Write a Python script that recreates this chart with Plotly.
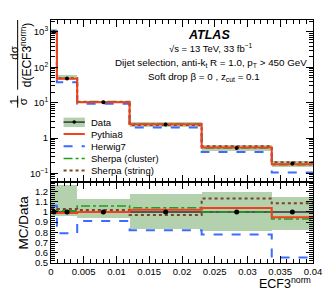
import plotly.graph_objects as go

# ---------------- data ----------------
bin_edges = [0.0, 0.0009, 0.004, 0.012, 0.023, 0.0337, 0.04]
data = [980.0, 48.0, 10.2, 2.4, 0.52, 0.19]
data_unc_up = [0.26, 0.26, 0.12, 0.17, 0.19, 0.14]   # relative
data_unc_dn = [0.04, 0.04, 0.06, 0.17, 0.19, 0.18]   # relative
pythia8 = [970.0, 47.5, 10.2, 2.45, 0.54, 0.180]
herwig7 = [1040.0, 38.0, 9.3, 1.97, 0.405, 0.105]
sherpa_cluster = [980.0, 48.5, 10.8, 2.50, 0.52, 0.177]
sherpa_string = [1010.0, 49.4, 10.4, 2.33, 0.588, 0.206]

log_tickvals = [0.1, 1, 10, 100, 1000]
log_ticktext = ["10<sup>\u22121</sup>", "1", "10<sup>1</sup>", "10<sup>2</sup>", "10<sup>3</sup>"]

# ---------------- styles ----------------
BAND = "#b3d1ac"
C_PY = "#f2401e"
C_HW = "#3a6cff"
C_SC = "#1f9e1f"
C_SS = "#7a4426"
FONT = "Liberation Sans, Arial, sans-serif"

centers = [(a + b) / 2 for a, b in zip(bin_edges[:-1], bin_edges[1:])]
widths = [b - a for a, b in zip(bin_edges[:-1], bin_edges[1:])]

def step(vals):
    return list(bin_edges), list(vals) + [vals[-1]]

fig = go.Figure()

# ---- top panel ----
lo = [d * (1 - u) for d, u in zip(data, data_unc_dn)]
hi = [d * (1 + u) for d, u in zip(data, data_unc_up)]
fig.add_trace(go.Bar(x=centers, width=widths, base=lo, y=[h - l for h, l in zip(hi, lo)],
                     marker=dict(color=BAND, line=dict(width=0)), xaxis="x", yaxis="y",
                     showlegend=False, hoverinfo="skip"))

series = [
    (herwig7, C_HW, "dash", 2.0),
    (sherpa_cluster, C_SC, "dashdot", 1.6),
    (sherpa_string, C_SS, "dot", 2.0),
    (pythia8, C_PY, "solid", 2.0),
]
for vals, col, dash, w in series:
    xs, ys = step(vals)
    fig.add_trace(go.Scatter(x=xs, y=ys, mode="lines", line=dict(color=col, dash=dash, width=w, shape="hv"),
                             xaxis="x", yaxis="y", showlegend=False, hoverinfo="skip"))
fig.add_trace(go.Scatter(x=centers, y=data, mode="markers", marker=dict(color="black", size=4),
                         xaxis="x", yaxis="y", showlegend=False, hoverinfo="skip"))

# ---- ratio panel ----
r_lo = [1 - u for u in data_unc_dn]
r_hi = [1 + u for u in data_unc_up]
fig.add_trace(go.Bar(x=centers, width=widths, base=r_lo, y=[h - l for h, l in zip(r_hi, r_lo)],
                     marker=dict(color=BAND, line=dict(width=0)), xaxis="x2", yaxis="y2",
                     showlegend=False, hoverinfo="skip"))
fig.add_trace(go.Scatter(x=[bin_edges[0], bin_edges[-1]], y=[1, 1], mode="lines",
                         line=dict(color="#555555", width=2), xaxis="x2", yaxis="y2",
                         showlegend=False, hoverinfo="skip"))
for vals, col, dash, w in series:
    ratio = [v / d for v, d in zip(vals, data)]
    xs, ys = step(ratio)
    fig.add_trace(go.Scatter(x=xs, y=ys, mode="lines", line=dict(color=col, dash=dash, width=w, shape="hv"),
                             xaxis="x2", yaxis="y2", showlegend=False, hoverinfo="skip"))
fig.add_trace(go.Scatter(x=centers, y=[1] * len(centers), mode="markers", marker=dict(color="black", size=5),
                         xaxis="x2", yaxis="y2", showlegend=False, hoverinfo="skip"))

# ---------------- layout ----------------
# the page body has an 8px margin, so the figure starts at screen (8, 8)
OFF = 8
W, H = 333 - OFF, 297 - OFF
SX0, SX1, SY0, SY1 = 51, 322, 19, 263          # plot area in screen pixels
L, R, T, B = SX0 - OFF, W - (SX1 - OFF), SY0 - OFF, H - (SY1 - OFF)
PW, PH = SX1 - SX0, SY1 - SY0

def px(x):
    return (x - SX0) / PW

def py(y):
    return (SY1 - y) / PH

axis_common = dict(showline=True, linecolor="black", linewidth=1, mirror="ticks", ticks="inside",
                   tickcolor="black", ticklen=7, tickwidth=1, showgrid=False, zeroline=False,
                   tickfont=dict(family=FONT, size=9.5, color="black"))
split = (SY1 - 182) / PH

fig.update_layout(
    width=W, height=H, margin=dict(l=L, r=R, t=T, b=B),
    paper_bgcolor="white", plot_bgcolor="white", barmode="overlay", bargap=0,
    showlegend=False,
    xaxis=dict(**axis_common, domain=[0, 1], range=[0, 0.04], dtick=0.005, tick0=0,
               showticklabels=False, anchor="y", matches="x2",
               minor=dict(dtick=0.001, ticks="inside", ticklen=4, tickcolor="black")),
    yaxis=dict(**axis_common, domain=[split, 1], type="log", range=[-1.254, 3.338],
               tickmode="array", tickvals=log_tickvals, ticktext=log_ticktext, anchor="x",
               minor=dict(tickmode="array", ticks="inside", ticklen=4, tickcolor="black",
                          tickvals=[m * 10 ** k for k in range(-2, 4) for m in range(2, 10)])),
    xaxis2=dict(**axis_common, domain=[0, 1], range=[0, 0.04], dtick=0.005, tick0=0, anchor="y2",
                minor=dict(dtick=0.001, ticks="inside", ticklen=4, tickcolor="black")),
    yaxis2=dict(**axis_common, domain=[0, split], range=[0.5, 1.29], dtick=0.1, tick0=0, anchor="x2",
                minor=dict(dtick=0.02, ticks="inside", ticklen=4, tickcolor="black")),
)

ann = []
def text(x, y, s, size, xanchor="center", angle=0, color="black", bold=False, italic=False):
    if bold:
        s = "<b>" + s + "</b>"
    if italic:
        s = "<i>" + s + "</i>"
    ann.append(dict(x=px(x), y=py(y), xref="paper", yref="paper", text=s, showarrow=False,
                    xanchor=xanchor, yanchor="middle", textangle=angle,
                    font=dict(family=FONT, size=size, color=color)))

# header text
text(214, 34, "ATLAS", 12.5, bold=True, italic=True)
text(216, 47, "\u221as = 13 TeV, 33 fb<sup>\u22121</sup>", 9.5)
text(217, 62, "Dijet selection, anti-k<sub>t</sub> R = 1.0, p<sub>T</sub> > 450 GeV", 9.8)
text(209, 76, "Soft drop \u03b2 = 0 , z<sub>cut</sub> = 0.1", 9.8)

# axis titles
text(322, 283, "ECF3<sup>norm</sup>", 12.5, xanchor="right")
text(22.5, 222, "MC/Data", 13.5, angle=-90)
text(12.5, 101, "1", 11.5, angle=-90)
text(21.5, 101, "\u03c3", 11.5, angle=-90)
text(12.5, 52, "d\u03c3", 11.5, angle=-90)
text(24.5, 54, "d(ECF3<sup>norm</sup>)", 12, angle=-90)

shapes = [
    dict(type="line", xref="paper", yref="paper", x0=px(16.5), x1=px(16.5), y0=py(95), y1=py(107),
         line=dict(color="black", width=1)),
    dict(type="line", xref="paper", yref="paper", x0=px(16.5), x1=px(16.5), y0=py(19), y1=py(89),
         line=dict(color="black", width=1)),
]

# legend (manual, ROOT style)
leg = [
    ("Pythia8", C_PY, "solid", 2.0, 133.5),
    ("Herwig7", C_HW, "dash", 2.0, 145.8),
    ("Sherpa (cluster)", C_SC, "dashdot", 1.6, 158),
    ("Sherpa (string)", C_SS, "dot", 2.0, 170.2),
]
shapes.append(dict(type="rect", xref="paper", yref="paper", x0=px(64), x1=px(86), y0=py(117), y1=py(126.5),
                   fillcolor=BAND, line=dict(width=0), layer="above"))
shapes.append(dict(type="line", xref="paper", yref="paper", x0=px(64), x1=px(86), y0=py(121.5), y1=py(121.5),
                   line=dict(color="#333333", width=1.5)))
shapes.append(dict(type="circle", xref="paper", yref="paper", x0=px(73.2), x1=px(76.8), y0=py(119.7), y1=py(123.3),
                   fillcolor="black", line=dict(color="black", width=0)))
text(90, 121.5, "Data", 9.5, xanchor="left")
for name, col, dash, w, yy in leg:
    shapes.append(dict(type="line", xref="paper", yref="paper", x0=px(64), x1=px(86), y0=py(yy), y1=py(yy),
                       line=dict(color=col, width=w, dash=dash)))
    text(90, yy, name, 9.5, xanchor="left")

fig.update_layout(annotations=ann, shapes=shapes)
fig.write_html("out.html")
